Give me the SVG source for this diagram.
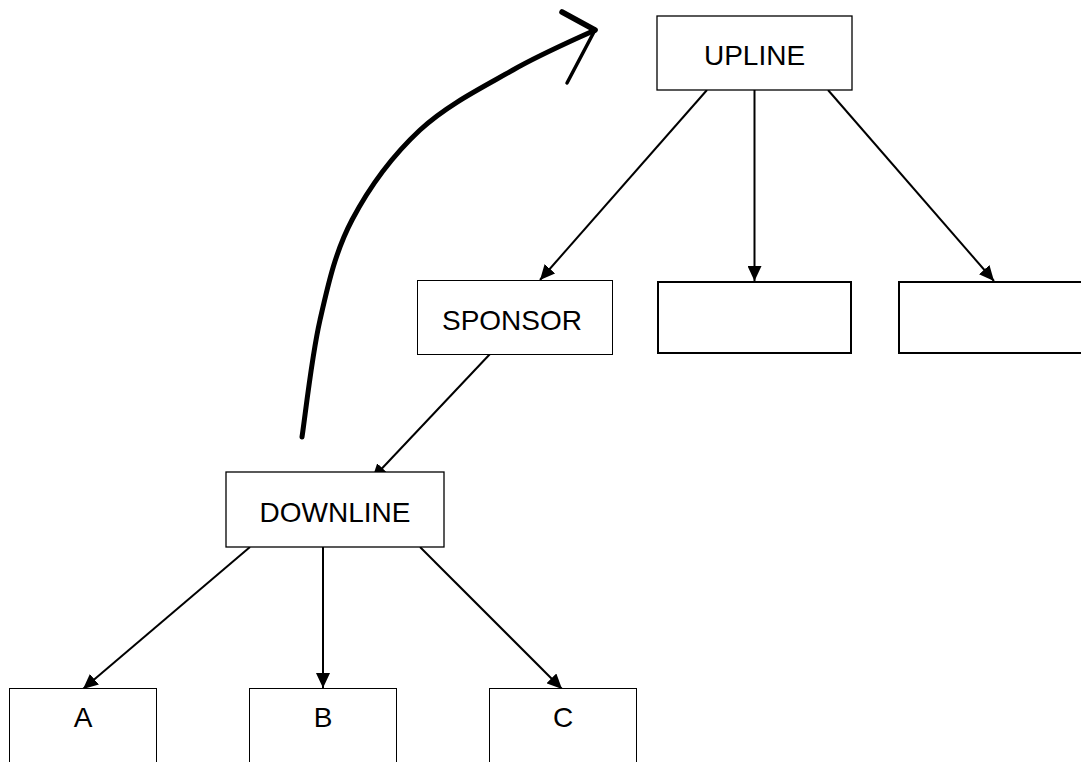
<svg xmlns="http://www.w3.org/2000/svg" width="1081" height="762" viewBox="0 0 1081 762">
<style>
.box{fill:#fff;stroke:#000;stroke-width:1.3}
.thin{stroke-width:1}
.thick{stroke-width:2}
.lbl{font-family:"Liberation Sans",Arial,sans-serif;font-size:28px;fill:#000;text-anchor:middle}
.conn{stroke:#000;stroke-width:2;fill:none;marker-end:url(#ah)}
.hand{stroke:#000;fill:none;stroke-linecap:round;stroke-linejoin:round}
</style>
<defs>
<marker id="ah" markerUnits="userSpaceOnUse" markerWidth="16" markerHeight="14" refX="15" refY="7" orient="auto">
<path d="M0,0 L15,7 L0,14 Z" fill="#000"/>
</marker>
</defs>
<rect width="1081" height="762" fill="#fff"/>
<g id="curve-arrow">
<path class="hand" stroke-width="5" d="M302,437 C305,417.5 311.7,356.2 320,320 C328.3,283.8 335.3,251.7 352,220 C368.7,188.3 393.2,155 420,130 C446.8,105 483.8,86.7 513,70 C542.2,53.3 581.3,36.7 595,30"/>
<path class="hand" stroke-width="5.5" d="M562,12 L595,30"/>
<path class="hand" stroke-width="3.5" d="M567,83 L595,30"/>
</g>
<g id="connectors">
<line class="conn" x1="707" y1="90" x2="540" y2="280"/>
<line class="conn" x1="754.5" y1="90" x2="754.5" y2="281"/>
<line class="conn" x1="828" y1="90" x2="994" y2="281"/>
<line class="conn" x1="490" y1="354" x2="372" y2="479"/>
<line class="conn" x1="250" y1="547" x2="83" y2="689"/>
<line class="conn" x1="323" y1="547" x2="323" y2="688"/>
<line class="conn" x1="420" y1="547" x2="562" y2="689"/>
</g>
<g id="upline">
<rect class="box" x="657" y="16" width="195" height="74"/>
<text class="lbl" x="754.5" y="65">UPLINE</text>
</g>
<g id="sponsor">
<rect class="box thin" x="417.5" y="280.5" width="195" height="74"/>
<text class="lbl" x="512" y="330">SPONSOR</text>
</g>
<g id="node-mid">
<rect class="box thick" x="658" y="282" width="193" height="71"/>
</g>
<g id="node-right">
<rect class="box thick" x="899" y="282" width="195" height="71"/>
</g>
<g id="downline">
<rect class="box" x="226" y="472" width="218" height="75"/>
<text class="lbl" x="335" y="522">DOWNLINE</text>
</g>
<g id="node-a">
<rect class="box thin" x="9.5" y="688.5" width="147" height="90"/>
<text class="lbl" x="83" y="727">A</text>
</g>
<g id="node-b">
<rect class="box thin" x="249.5" y="688.5" width="147" height="90"/>
<text class="lbl" x="323" y="727">B</text>
</g>
<g id="node-c">
<rect class="box thin" x="489.5" y="688.5" width="147" height="90"/>
<text class="lbl" x="563" y="727">C</text>
</g>
</svg>
